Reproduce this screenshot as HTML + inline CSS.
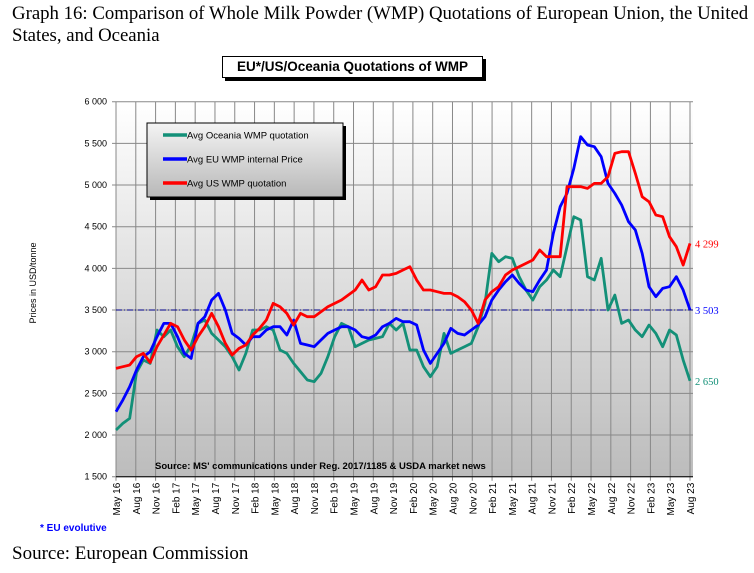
<!DOCTYPE html>
<html><head><meta charset="utf-8">
<style>
body{margin:0;width:754px;height:573px;background:#fff;overflow:hidden;position:relative;font-family:"Liberation Sans",sans-serif}
.t{position:absolute;white-space:nowrap}
</style></head><body>
<div class="t" style="left:12px;top:3px;font-family:'Liberation Serif',serif;font-size:18.8px;line-height:22px;color:#000">Graph 16: Comparison of Whole Milk Powder (WMP) Quotations of European Union, the United<br>States, and Oceania</div>
<div class="t" style="left:222px;top:56px;width:259px;height:20px;border:1px solid #000;background:#fff;box-shadow:3px 3px 0 #000;font-weight:bold;font-size:13.5px;line-height:20px;text-align:center">EU*/US/Oceania Quotations of WMP</div>
<svg id="chart" width="754" height="573" style="position:absolute;left:0;top:0">
<defs><linearGradient id="bg" x1="0" y1="0" x2="0" y2="1"><stop offset="0" stop-color="#ffffff"/><stop offset="1" stop-color="#bcbcbc"/></linearGradient>
<linearGradient id="lg" x1="0" y1="0" x2="0" y2="1"><stop offset="0" stop-color="#f4f4f4"/><stop offset="1" stop-color="#b8b8b8"/></linearGradient></defs>
<g id="plot"></g>
</svg>
<div class="t" style="left:40px;top:523px;font-size:10px;font-weight:bold;color:#0000ff">* EU evolutive</div>
<div class="t" style="left:12px;top:543px;font-family:'Liberation Serif',serif;font-size:19px">Source: European Commission</div>
<script>
const yTicks=[1500,2000,2500,3000,3500,4000,4500,5000,5500,6000];
const xLabels=["May 16","Aug 16","Nov 16","Feb 17","May 17","Aug 17","Nov 17","Feb 18","May 18","Aug 18","Nov 18","Feb 19","May 19","Aug 19","Nov 19","Feb 20","May 20","Aug 20","Nov 20","Feb 21","May 21","Aug 21","Nov 21","Feb 22","May 22","Aug 22","Nov 22","Feb 23","May 23","Aug 23"];
const usSeries=[2800,2820,2840,2940,2980,2870,3060,3200,3340,3300,3140,3020,3180,3300,3460,3300,3100,2960,3040,3080,3200,3280,3380,3580,3540,3460,3320,3460,3420,3420,3480,3540,3580,3620,3680,3740,3860,3740,3780,3920,3920,3940,3980,4020,3860,3740,3740,3720,3700,3700,3660,3600,3500,3340,3620,3720,3780,3920,3980,4020,4060,4100,4220,4140,4140,4140,4980,4980,4980,4960,5020,5020,5100,5380,5400,5400,5140,4860,4800,4640,4620,4380,4260,4040,4299];
const euSeries=[2280,2420,2580,2780,2940,3000,3180,3340,3340,3180,2980,2920,3340,3420,3620,3700,3500,3220,3160,3080,3180,3180,3260,3300,3300,3200,3380,3100,3080,3060,3140,3220,3260,3300,3300,3260,3180,3160,3200,3300,3340,3400,3360,3360,3320,3020,2860,2980,3100,3280,3220,3200,3260,3320,3420,3620,3740,3840,3920,3820,3740,3720,3860,3980,4420,4740,4900,5200,5580,5480,5460,5340,5020,4900,4760,4560,4460,4180,3780,3660,3760,3780,3900,3740,3503];
const ocSeries=[2060,2140,2200,2750,2900,2860,3260,3180,3260,3060,2940,3080,3340,3380,3220,3140,3060,2940,2780,2980,3260,3260,3300,3260,3020,2980,2860,2760,2660,2640,2740,2940,3180,3340,3300,3060,3100,3140,3160,3180,3340,3260,3340,3020,3020,2820,2700,2820,3220,2980,3020,3060,3100,3300,3580,4180,4080,4140,4120,3900,3740,3620,3780,3860,3980,3900,4260,4620,4580,3900,3860,4120,3500,3680,3340,3380,3260,3180,3320,3220,3060,3260,3200,2900,2650];
const refLine=3500;
const L=116,R=690,T=101.7,B=476.7,YMIN=1500,YMAX=6000;
const ys=v=>B-(v-YMIN)/(YMAX-YMIN)*(B-T);
const xs=i=>L+i*(R-L)/(usSeries.length-1);
const xq=i=>L+i*(R-L)/(xLabels.length-1);
const NS="http://www.w3.org/2000/svg";
const g=document.getElementById('plot');
function mk(tag,at,parent){const e=document.createElementNS(NS,tag);for(const k in at)e.setAttribute(k,at[k]);(parent||g).appendChild(e);return e;}
let e=mk('rect',{x:L,y:T,width:R-L+3,height:B-T,fill:'url(#bg)'});


yTicks.forEach(v=>{
 let l=mk('line',{x1:L-4,x2:R+3,y1:ys(v),y2:ys(v),stroke:'#888','stroke-width':1});
 
 
 let t=mk('text',{x:107,y:ys(v)+3,'text-anchor':'end','font-size':'9','font-family':'Liberation Sans, sans-serif'});
 t.textContent=v.toLocaleString('en').replace(',',' ');
 
 
});
xLabels.forEach((s,i)=>{
 let l=mk('line',{x1:xq(i),x2:xq(i),y1:T,y2:B+4,stroke:'#888','stroke-width':1});
 
 
 let t=mk('text',{x:0,y:0,transform:`translate(${xq(i)+4},${B+6}) rotate(-90)`,'text-anchor':'end','font-size':'10','font-family':'Liberation Sans, sans-serif'});
 t.textContent=s;
 
 
});
e=mk('line',{x1:L,x2:R+3,y1:B,y2:B,stroke:'#000','stroke-width':1});


e=mk('line',{x1:L,x2:R+3,y1:ys(refLine),y2:ys(refLine),stroke:'#00008b','stroke-width':1,'stroke-dasharray':'6,2,1,2'});


function line(arr,col,name){
 const p=mk('polyline',{points:arr.map((v,i)=>xs(i)+','+ys(v)).join(' '),fill:'none',stroke:col,'stroke-width':2.8,'stroke-linejoin':'round'});
 
 
 const t=mk('text',{x:R+5,y:ys(arr[arr.length-1])+4,'font-size':'10.5','font-family':'Liberation Serif, serif',fill:col});
 t.textContent=arr[arr.length-1].toLocaleString('en').replace(',',' ');
 
 
}
line(ocSeries,'#139078','oceania-line');
line(euSeries,'#0000ff','eu-line');
line(usSeries,'#ff0000','us-line');
e=mk('text',{x:155,y:469,'font-size':'9.5','font-weight':'bold','font-family':'Liberation Sans, sans-serif'});
e.textContent="Source: MS' communications under Reg. 2017/1185 & USDA market news";


e=mk('text',{x:0,y:0,transform:'translate(36,283) rotate(-90)','text-anchor':'middle','font-size':'9','font-family':'Liberation Sans, sans-serif'});
e.textContent='Prices in USD/tonne';


const lg=mk('g',{});


mk('rect',{x:150,y:126,width:196,height:74,fill:'#000'},lg);
mk('rect',{x:147,y:123,width:196,height:74,fill:'url(#lg)',stroke:'#000','stroke-width':1},lg);
[['Avg Oceania WMP quotation','#139078'],['Avg EU WMP internal Price','#0000ff'],['Avg US WMP quotation','#ff0000']].forEach((d,i)=>{
 const y=135+i*24;
 let l=mk('line',{x1:163,x2:187,y1:y,y2:y,stroke:d[1],'stroke-width':3.5},lg);
 
 
 let t=mk('text',{x:187,y:y+3.5,'font-size':'9.5','font-family':'Liberation Sans, sans-serif'},lg);
 t.textContent=d[0];
 
 
});
</script>
</body></html>
